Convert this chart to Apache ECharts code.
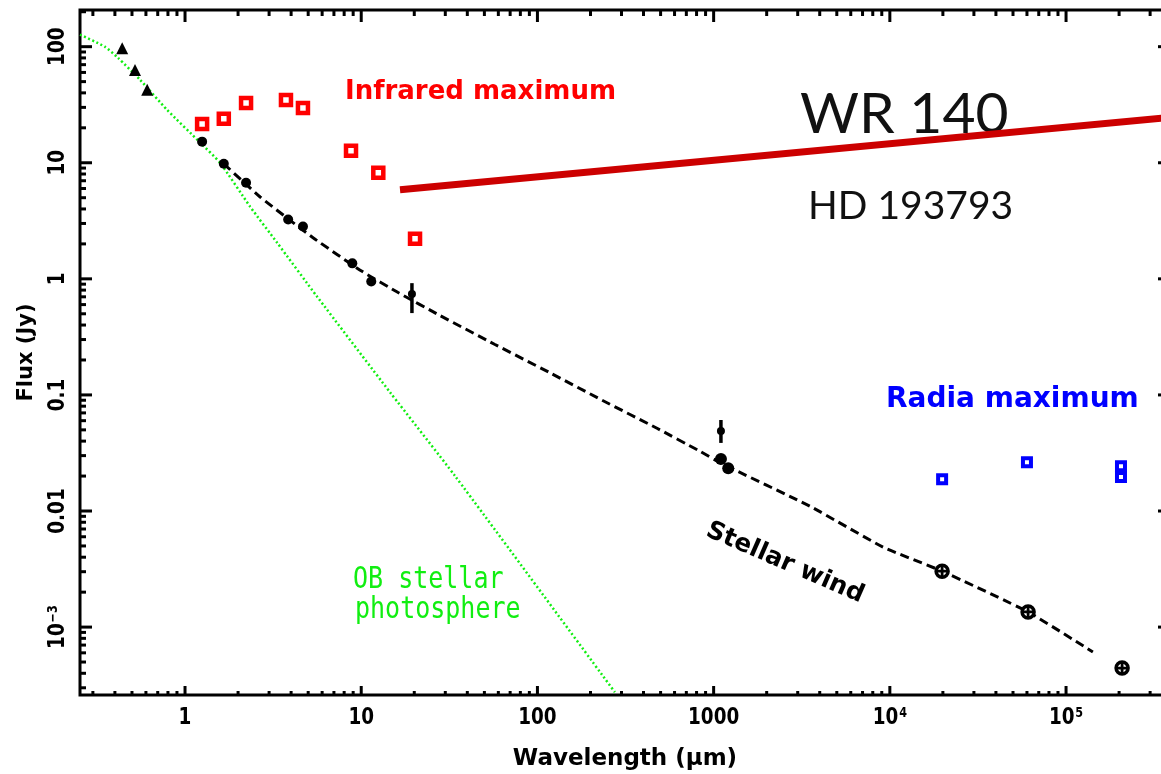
<!DOCTYPE html>
<html>
<head>
<meta charset="utf-8">
<title>WR 140 spectral energy distribution</title>
<script src="https://cdn.jsdelivr.net/npm/echarts@6/dist/echarts.min.js"></script>
<style>
  html, body { margin: 0; padding: 0; background: #ffffff; }
  #chart { width: 1161px; height: 774px; }
</style>
</head>
<body>
<div id="chart"></div>
<script>
// Axis extents: wavelength in μm, flux density in Jy
const wlRange = [0.2535, 3.89e5];
const fluxRange = [2.6e-4, 207];

// Decade tick values and their labels
const xTickValues = [1, 10, 100, 1000, 1e4, 1e5];
const xTickLabels = ['1', '10', '100', '1000', '10{sup|4}', '10{sup|5}'];
const yTickValues = [100, 10, 1, 0.1, 0.01, 0.001];
const yTickLabels = ['100', '10', '1', '0.1', '0.01', '10{sup|−3}'];

// OB stellar photosphere model curve
const photWl   = [0.2535, 0.35, 0.417, 0.556, 0.79, 1.22, 1.58, 2.34, 3.33, 5.61, 14.6, 34.1, 275];
const photFlux = [127, 100, 80, 51.8, 28.6, 14.9, 10.0, 4.19, 2.05, 0.705, 0.105, 0.020, 2.75e-4];

// Stellar wind free-free model curve
const windWl   = [1.66, 2.67, 5.33, 10.1, 16.2, 28.0, 57.4, 116, 233, 477, 815, 1130, 3520, 9150, 1.98e4, 6.09e4, 1.42e5];
const windFlux = [9.8, 5.07, 2.26, 1.16, 0.762, 0.483, 0.272, 0.157, 0.090, 0.0516, 0.0334, 0.0253, 0.0110, 4.89e-3, 3.03e-3, 1.35e-3, 6.10e-4];

// Optical photometry (triangles)
const optWl   = [0.44, 0.52, 0.61];
const optFlux = [97, 63, 42.5];

// Near/mid-IR photometry at minimum (filled dots)
const irMinWl   = [1.25, 1.66, 2.22, 3.85, 4.67, 8.9, 11.4];
const irMinFlux = [15.2, 9.8, 6.73, 3.24, 2.82, 1.36, 0.95];

// Points with error bars
const errWl   = [19.4, 1100];
const errFlux = [0.74, 0.0489];
const errLow  = [0.507, 0.0386];
const errHigh = [0.918, 0.0608];

// Millimetre fluxes
const mmWl   = [1100, 1210];
const mmFlux = [0.028, 0.0234];

// Radio fluxes at radio minimum (circled crosses)
const radioMinWl   = [1.98e4, 6.09e4, 2.08e5];
const radioMinFlux = [3.03e-3, 1.35e-3, 4.44e-4];

// Infrared maximum
const irMaxWl   = [1.25, 1.66, 2.22, 3.74, 4.67, 8.75, 12.5, 20.2];
const irMaxFlux = [21.6, 23.9, 32.8, 34.8, 29.7, 12.7, 8.2, 2.22];

// Radio maximum
const radioMaxWl   = [1.98e4, 6.0e4, 2.05e5, 2.05e5];
const radioMaxFlux = [0.0188, 0.0263, 0.0243, 0.0196];

// Pointer line running to the star's name
const pointerWl   = [16.6, 3.89e5];
const pointerFlux = [5.86, 24.6];

const zip = (a, b) => a.map((v, i) => [v, b[i]]);

const tickFont = 'bold 23px "DejaVu Sans", sans-serif';
const supRich = { sup: { fontSize: 14, fontWeight: 'bold', fontFamily: 'DejaVu Sans', verticalAlign: 'top', padding: [0, 0, 6, 1] } };

// Draws IDL-style inward ticks on all four sides plus decade labels
function renderFrame(params, api) {
  if (params.dataIndex !== 0) return null;
  const children = [];
  const [x0, x1] = wlRange;
  const [y0, y1] = fluxRange;
  const pLB = api.coord([x0, y0]);
  const pRT = api.coord([x1, y1]);
  const left = pLB[0], bottom = pLB[1], right = pRT[0], top = pRT[1];
  const seg = (a, b, c, d) => ({ type: 'line', shape: { x1: a, y1: b, x2: c, y2: d }, style: { stroke: '#000', lineWidth: 3 } });

  for (let k = -1; k <= 5; k++) {
    for (let m = 1; m <= 9; m++) {
      const v = m * Math.pow(10, k);
      if (v <= x0 || v >= x1) continue;
      const px = api.coord([v, y0])[0];
      const major = m === 1;
      children.push(seg(px, bottom, px, bottom - (major ? 9 : 4)));
      children.push(seg(px, top, px, top + (major ? 12 : 6)));
    }
  }
  for (let k = -4; k <= 2; k++) {
    for (let m = 1; m <= 9; m++) {
      const v = m * Math.pow(10, k);
      if (v <= y0 || v >= y1) continue;
      const py = api.coord([x0, v])[1];
      const major = m === 1;
      children.push(seg(left, py, left + (major ? 12 : 6), py));
      children.push(seg(right, py, right - (major ? 12 : 6), py));
    }
  }
  xTickValues.forEach((v, i) => {
    const px = api.coord([v, y0])[0];
    children.push({
      type: 'text', x: px, y: bottom + 23, scaleX: 0.8,
      style: { text: xTickLabels[i], font: tickFont, fill: '#000', align: 'center', verticalAlign: 'middle', rich: supRich }
    });
  });
  yTickValues.forEach((v, i) => {
    const py = api.coord([x0, v])[1];
    children.push({
      type: 'text', x: left - 22, y: py, rotation: Math.PI / 2, scaleX: 0.8,
      style: { text: yTickLabels[i], font: tickFont, fill: '#000', align: 'center', verticalAlign: 'middle', rich: supRich }
    });
  });
  return { type: 'group', children };
}

// Vertical error bar with a central dot
function renderErrorBar(params, api) {
  const c = api.coord([api.value(0), api.value(1)]);
  const lo = api.coord([api.value(0), api.value(2)]);
  const hi = api.coord([api.value(0), api.value(3)]);
  return {
    type: 'group',
    children: [
      { type: 'line', shape: { x1: c[0], y1: hi[1], x2: c[0], y2: lo[1] }, style: { stroke: '#000', lineWidth: 3.5 } },
      { type: 'circle', shape: { cx: c[0], cy: c[1], r: 4 }, style: { fill: '#000' } }
    ]
  };
}

const chart = echarts.init(document.getElementById('chart'), null, { renderer: 'canvas' });

const option = {
  backgroundColor: '#ffffff',
  animation: false,
  grid: {
    left: 80, top: 10, width: 1090, height: 685,
    show: true, borderColor: '#000', borderWidth: 3, backgroundColor: 'transparent',
    containLabel: false, outerBoundsMode: 'none'
  },
  xAxis: {
    type: 'log', logBase: 10, min: wlRange[0], max: wlRange[1],
    name: 'Wavelength (μm)', nameLocation: 'middle', nameGap: 53,
    nameTextStyle: { color: '#000', fontSize: 23, fontWeight: 'bold', fontFamily: 'DejaVu Sans' },
    axisLine: { show: false }, axisTick: { show: false }, axisLabel: { show: false }, splitLine: { show: false }
  },
  yAxis: {
    type: 'log', logBase: 10, min: fluxRange[0], max: fluxRange[1],
    name: 'Flux (Jy)', nameLocation: 'middle', nameGap: 43, nameRotate: 90,
    nameTextStyle: { color: '#000', fontSize: 21, fontWeight: 'bold', fontFamily: 'DejaVu Sans' },
    axisLine: { show: false }, axisTick: { show: false }, axisLabel: { show: false }, splitLine: { show: false }
  },
  series: [
    {
      name: 'frame', type: 'custom', silent: true, z: 10, clip: false,
      data: [[1, 1]], encode: { x: 0, y: 1 },
      renderItem: renderFrame
    },
    {
      name: 'OB stellar photosphere', type: 'line', data: zip(photWl, photFlux),
      symbol: 'none', smooth: 0.2, lineStyle: { color: '#11ee11', width: 2.5, type: [2, 2.5] }, z: 3
    },
    {
      name: 'Stellar wind', type: 'line', data: zip(windWl, windFlux),
      symbol: 'none', smooth: 0.15, lineStyle: { color: '#000', width: 3, type: [9, 5] }, z: 4
    },
    {
      name: 'optical', type: 'scatter', data: zip(optWl, optFlux),
      symbol: 'triangle', symbolSize: 12, itemStyle: { color: '#000', opacity: 1 }, z: 5
    },
    {
      name: 'infrared minimum', type: 'scatter', data: zip(irMinWl, irMinFlux),
      symbol: 'circle', symbolSize: 10, itemStyle: { color: '#000', opacity: 1 }, z: 5
    },
    {
      name: 'millimetre', type: 'scatter', data: zip(mmWl, mmFlux),
      symbol: 'circle', symbolSize: 12, itemStyle: { color: '#000', opacity: 1 }, z: 5
    },
    {
      name: 'error bars', type: 'custom', z: 5,
      data: errWl.map((w, i) => [w, errFlux[i], errLow[i], errHigh[i]]),
      encode: { x: 0, y: 1 }, dimensions: ['wl', 'flux', 'low', 'high'],
      renderItem: renderErrorBar
    },
    {
      name: 'radio minimum ring', type: 'scatter', data: zip(radioMinWl, radioMinFlux),
      symbol: 'circle', symbolSize: 12, itemStyle: { color: '#fff', borderColor: '#000', borderWidth: 3.5, opacity: 1 }, z: 6
    },
    {
      name: 'radio minimum cross', type: 'scatter', data: zip(radioMinWl, radioMinFlux),
      symbol: 'path://M-1.5,-7H1.5V7H-1.5Z M-7,-1.5H7V1.5H-7Z', symbolSize: 13, itemStyle: { color: '#000', opacity: 1 }, z: 7
    },
    {
      name: 'Infrared maximum', type: 'scatter', data: zip(irMaxWl, irMaxFlux),
      symbol: 'rect', symbolSize: 10, itemStyle: { color: '#fff', borderColor: '#ff0000', borderWidth: 4.5, opacity: 1 }, z: 6
    },
    {
      name: 'Radia maximum', type: 'scatter', data: zip(radioMaxWl, radioMaxFlux),
      symbol: 'rect', symbolSize: 8, itemStyle: { color: '#fff', borderColor: '#0000ff', borderWidth: 4, opacity: 1 }, z: 6
    },
    {
      name: 'pointer', type: 'line', data: zip(pointerWl, pointerFlux),
      symbol: 'none', lineStyle: { color: '#cc0000', width: 7, cap: 'butt' }, z: 100
    }
  ],
  graphic: [
    { type: 'text', x: 345, y: 92, style: { text: 'Infrared maximum', fill: '#ff0000', font: 'bold 26px "DejaVu Sans", sans-serif', align: 'left', verticalAlign: 'middle' } },
    { type: 'text', x: 886, y: 400, style: { text: 'Radia maximum', fill: '#0000ff', font: 'bold 28px "DejaVu Sans", sans-serif', align: 'left', verticalAlign: 'middle' } },
    { type: 'text', x: 800, y: 115, style: { text: 'WR 140', fill: '#111', font: '57px Lato, "DejaVu Sans", sans-serif', align: 'left', verticalAlign: 'middle' } },
    { type: 'text', x: 808, y: 206, style: { text: 'HD 193793', fill: '#111', font: '39px Lato, "DejaVu Sans", sans-serif', align: 'left', verticalAlign: 'middle' } },
    { type: 'text', x: 785, y: 563, rotation: -0.41, style: { text: 'Stellar wind', fill: '#000', font: 'bold 25px "DejaVu Sans", sans-serif', align: 'center', verticalAlign: 'middle' } },
    { type: 'text', x: 353, y: 580, scaleY: 1.2, style: { text: 'OB stellar', fill: '#11ee11', font: '25px "DejaVu Sans Mono", monospace', align: 'left', verticalAlign: 'middle' } },
    { type: 'text', x: 355, y: 610, scaleY: 1.2, style: { text: 'photosphere', fill: '#11ee11', font: '25px "DejaVu Sans Mono", monospace', align: 'left', verticalAlign: 'middle' } }
  ]
};

chart.setOption(option);
</script>
</body>
</html>
